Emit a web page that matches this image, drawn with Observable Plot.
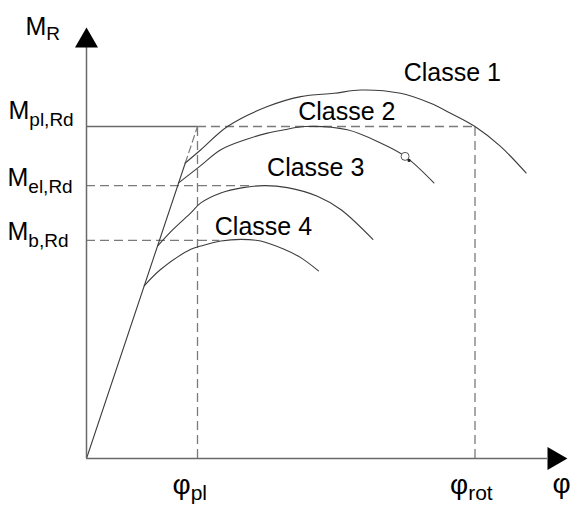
<!DOCTYPE html>
<html>
<head>
<meta charset="utf-8">
<script src="https://cdn.jsdelivr.net/npm/d3@7"></script>
<script src="https://cdn.jsdelivr.net/npm/@observablehq/plot@0.6"></script>
<style>
  html, body { margin: 0; padding: 0; background: #fff; }
  #chart svg { display: block; font-family: "Liberation Sans", Arial, sans-serif; }
</style>
</head>
<body>
<div id="chart"></div>
<script>
// Moment–rotation behaviour of steel cross-sections, classes 1 to 4.
// Rotation φ is expressed in units of φpl, moment M in units of Mpl,Rd.

const classNames = ["Classe 1", "Classe 2", "Classe 3", "Classe 4"];

// [φ, M] points along each class curve
const classe1 = [[0.89, 0.89], [1.03, 0.93], [1.27, 1.00], [1.63, 1.06], [1.93, 1.09], [2.23, 1.10],
                 [2.47, 1.11], [2.83, 1.10], [3.10, 1.07], [3.28, 1.04], [3.50, 1.00], [3.73, 0.94], [3.96, 0.86]];
const classe2 = [[0.83, 0.83], [1.02, 0.88], [1.21, 0.93], [1.43, 0.96], [1.63, 0.98], [1.78, 0.99],
                 [1.97, 1.00], [2.35, 0.99], [2.65, 0.95], [2.87, 0.91], [3.13, 0.83]];
const classe3 = [[0.64, 0.64], [0.78, 0.69], [0.94, 0.74], [1.03, 0.77], [1.21, 0.80], [1.41, 0.816],
                 [1.60, 0.822], [1.81, 0.816], [2.08, 0.79], [2.29, 0.75], [2.58, 0.66]];
const classe4 = [[0.52, 0.52], [0.67, 0.57], [0.94, 0.63], [1.03, 0.64], [1.21, 0.655], [1.39, 0.66],
                 [1.57, 0.655], [1.78, 0.63], [1.93, 0.605], [2.09, 0.565]];
const classSeries = [classe1, classe2, classe3, classe4];

// rotation-capacity marker on the class 2 curve
const classe2Marker = [[2.87, 0.91]];

// elastic branch M = φ, solid up to where class 1 leaves it, dashed up to (φpl, Mpl)
const elasticSolid = [[0, 0], [0.89, 0.89]];
const elasticDashed = [[0.89, 0.89], [1, 1]];

// moment levels on the M axis and how far their guide lines run along φ
const momentLabels = ["M_pl,Rd", "M_el,Rd", "M_b,Rd"];
const momentValues = [1.0, 0.822, 0.657];
const momentGuideEnds = [3.5, 1.48, 1.2];

// rotation levels on the φ axis
const rotationLabels = ["φ_pl", "φ_rot"];
const rotationValues = [1.0, 3.5];

// axis extents (arrow bases) and axis titles
const phiAxisEnd = 4.153;
const mAxisEnd = 1.238;
const phiAxisTitle = "φ";
const mAxisTitle = "M_R";

// ---- derived tables ----
const curves = classSeries.flatMap((s, i) => s.map(([phi, m]) => ({name: classNames[i], phi, m})));
const peaks = classSeries.map((s, i) => {
  const [phi, m] = s.reduce((a, b) => (b[1] > a[1] ? b : a));
  return {name: classNames[i], phi, m};
});
const levels = momentLabels.map((label, i) => ({label, m: momentValues[i], end: momentGuideEnds[i]}));
const rotations = rotationLabels.map((label, i) => ({label, phi: rotationValues[i]}));
const pl = levels[0];

// label offsets in px from each class peak
const classLabelOffsets = [[43, -9], [-7, -7], [3, -10], [-26, -4]];

const axisColor = "#6a6a6a";
const dashColor = "#7a7a7a";
const curveColor = "#3c3c3c";
const dash = "9,5";
const tri = 8.54;   // triangle dot radius → 23px wide arrowhead
const triBack = 6.64; // centroid-to-base distance of that triangle

const P = (d) => d[0];
const Q = (d) => d[1];

const chart = Plot.plot({
  width: 570,
  height: 506,
  margin: 0,
  x: {domain: [0, 1], range: [86, 197], axis: null},
  y: {domain: [0, 1], range: [458, 126], axis: null},
  style: {fontFamily: "'Liberation Sans', Arial, sans-serif", background: "#fff", overflow: "visible"},
  marks: [
    // guide lines
    Plot.ruleX(rotations, {x: "phi", y1: 0, y2: pl.m, stroke: dashColor, strokeWidth: 1.3, strokeDasharray: dash}),
    Plot.ruleY(levels.slice(1), {y: "m", x1: 0, x2: "end", stroke: dashColor, strokeWidth: 1.3, strokeDasharray: dash}),
    Plot.ruleY([pl], {y: "m", x1: rotations[0].phi, x2: "end", stroke: dashColor, strokeWidth: 1.3, strokeDasharray: dash}),
    Plot.ruleY([pl], {y: "m", x1: 0, x2: rotations[0].phi, stroke: axisColor, strokeWidth: 1.4}),

    // elastic branch
    Plot.line(elasticSolid, {x: P, y: Q, stroke: curveColor, strokeWidth: 1.1}),
    Plot.line(elasticDashed, {x: P, y: Q, stroke: dashColor, strokeWidth: 1.2, strokeDasharray: "7,4"}),

    // class curves
    Plot.line(curves, {x: "phi", y: "m", z: "name", curve: "catmull-rom", stroke: curveColor, strokeWidth: 1.1}),
    Plot.dot(classe2Marker, {x: P, y: Q, r: 4, stroke: "#555", strokeWidth: 1, fill: "#fff"}),
    Plot.dot(classe2Marker, {x: P, y: Q, r: 1.6, dx: 4, dy: 4, fill: "#222"}),

    // axes with arrowheads
    Plot.ruleX([0], {y1: 0, y2: mAxisEnd, stroke: axisColor, strokeWidth: 1.5}),
    Plot.ruleY([0], {x1: 0, x2: phiAxisEnd, stroke: axisColor, strokeWidth: 1.5}),
    Plot.dot([[0, mAxisEnd]], {x: P, y: Q, symbol: "triangle", r: tri, fill: "#000", dy: -triBack}),
    Plot.dot([[phiAxisEnd, 0]], {x: P, y: Q, symbol: "triangle", r: tri, fill: "#000", rotate: 90, dx: triBack}),

    // class labels
    ...peaks.map((p, i) => Plot.text([p], {
      x: "phi", y: "m", text: "name", fontSize: 25, fill: "#000",
      textAnchor: "start", lineAnchor: "bottom",
      dx: classLabelOffsets[i][0], dy: classLabelOffsets[i][1]
    })),

    // moment labels
    Plot.text(levels.slice(0, 1), {x: 0, y: "m", text: "label", fontSize: 25, fill: "#000",
      textAnchor: "start", lineAnchor: "bottom", dx: -78, dy: -8}),
    Plot.text(levels.slice(1), {x: 0, y: "m", text: "label", fontSize: 25, fill: "#000",
      textAnchor: "start", lineAnchor: "bottom", dx: -79, dy: 0}),
    Plot.text([mAxisTitle], {x: 0, y: mAxisEnd, text: (d) => d, fontSize: 25, fill: "#000",
      textAnchor: "start", lineAnchor: "bottom", dx: -61, dy: -12}),

    // rotation labels
    Plot.text(rotations, {x: "phi", y: 0, text: "label", fontSize: 28, fill: "#000",
      textAnchor: "start", lineAnchor: "bottom", dx: -25, dy: 35}),
    Plot.text([phiAxisTitle], {x: phiAxisEnd, y: 0, text: (d) => d, fontSize: 28, fill: "#000",
      textAnchor: "start", lineAnchor: "bottom", dx: 5, dy: 34})
  ]
});

// turn "X_sub" strings into a main glyph followed by a lowered, smaller subscript
const SVGNS = "http://www.w3.org/2000/svg";
chart.querySelectorAll("text").forEach((t) => {
  const s = t.textContent;
  const k = s.indexOf("_");
  if (k < 0) return;
  const base = s.slice(0, k), sub = s.slice(k + 1);
  t.textContent = "";
  const a = document.createElementNS(SVGNS, "tspan");
  a.textContent = base;
  const b = document.createElementNS(SVGNS, "tspan");
  b.textContent = sub;
  const isPhi = base === "φ";
  b.setAttribute("font-size", isPhi ? 21 : 19);
  b.setAttribute("dy", isPhi ? 6 : (sub === "R" ? 5 : 7));
  t.append(a, b);
});

document.getElementById("chart").append(chart);
</script>
</body>
</html>
